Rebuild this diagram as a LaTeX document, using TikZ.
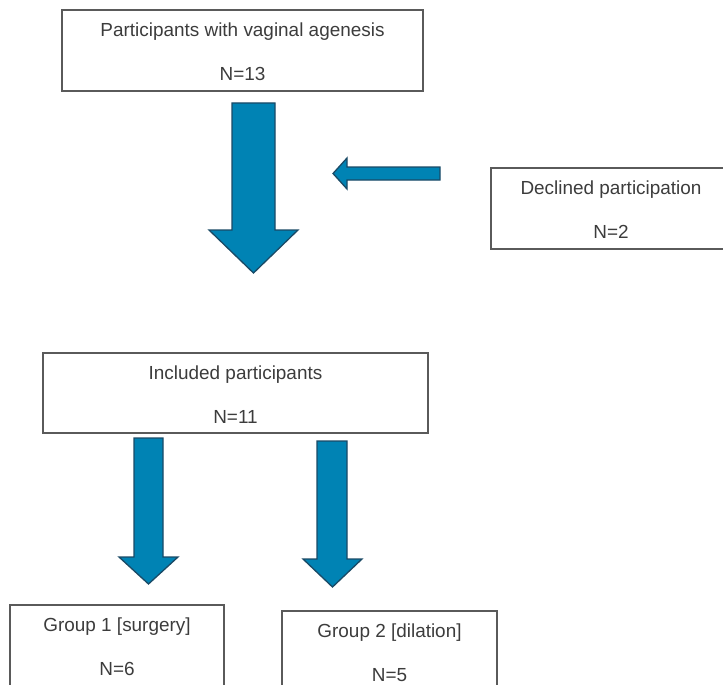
\documentclass[tikz,border=0pt]{standalone}
\usepackage{fontspec}
\setmainfont{Liberation Sans}
\usetikzlibrary{positioning}
\definecolor{blockblue}{HTML}{0083B4}
\definecolor{blockedge}{HTML}{1A4A66}
\definecolor{boxgray}{HTML}{3C3C3C}
\definecolor{edgegray}{HTML}{5A5A5A}

\begin{document}
\begin{tikzpicture}[x=1bp, y=-1bp,
    stagebox/.style={draw=edgegray, line width=1.3bp, inner sep=0pt},
    stagetext/.style={inner sep=0pt, align=center, text=boxgray, font=\fontsize{19}{22}\selectfont},
    fatarrow/.style={fill=blockblue, draw=blockedge, line width=1.3bp, line join=miter}]
  \clip (0,0) rectangle (723,685);
  \useasboundingbox (0,0) rectangle (723,685);

  \node [stagebox, minimum width=361bp, minimum height=81bp] (entry) at (242.5,50.5) {};
  \node [stagetext, below=13bp of entry.north] (entry-text)
    {Participants with vaginal agenesis\\[22bp]N=13};
  \node [stagebox, minimum width=240bp, minimum height=81bp] (declined) at (611,208.5) {};
  \node [stagetext, below=13bp of declined.north] (declined-text)
    {Declined participation\\[22bp]N=2};
  \node [stagebox, minimum width=385bp, minimum height=80bp] (included) at (235.5,393) {};
  \node [stagetext, below=13bp of included.north] (included-text)
    {Included participants\\[22bp]N=11};
  % bottom edges of the group boxes fall below the page
  \node [stagebox, minimum width=214bp, minimum height=86bp] (group1) at (117,648) {};
  \node [stagetext, below=13bp of group1.north] (group1-text)
    {Group 1 [surgery]\\[22bp]N=6};
  \node [stagebox, minimum width=215bp, minimum height=86bp] (group2) at (389.5,654) {};
  \node [stagetext, below=13bp of group2.north] (group2-text)
    {Group 2 [dilation]\\[22bp]N=5};

  % block arrows
  \draw [fatarrow] (232,103) -- (275,103) -- (275,230) -- (298,230) -- (253.5,273)
    -- (209,230) -- (232,230) -- cycle;
  \draw [fatarrow] (440,167) -- (347,167) -- (347,158) -- (333,173.5) -- (347,189)
    -- (347,180) -- (440,180) -- cycle;
  \draw [fatarrow] (134,438) -- (163,438) -- (163,557) -- (178,557) -- (148.5,584)
    -- (119,557) -- (134,557) -- cycle;
  \draw [fatarrow] (317,441) -- (347,441) -- (347,559) -- (362,559) -- (332.5,587)
    -- (303,559) -- (317,559) -- cycle;
\end{tikzpicture}
\end{document}
